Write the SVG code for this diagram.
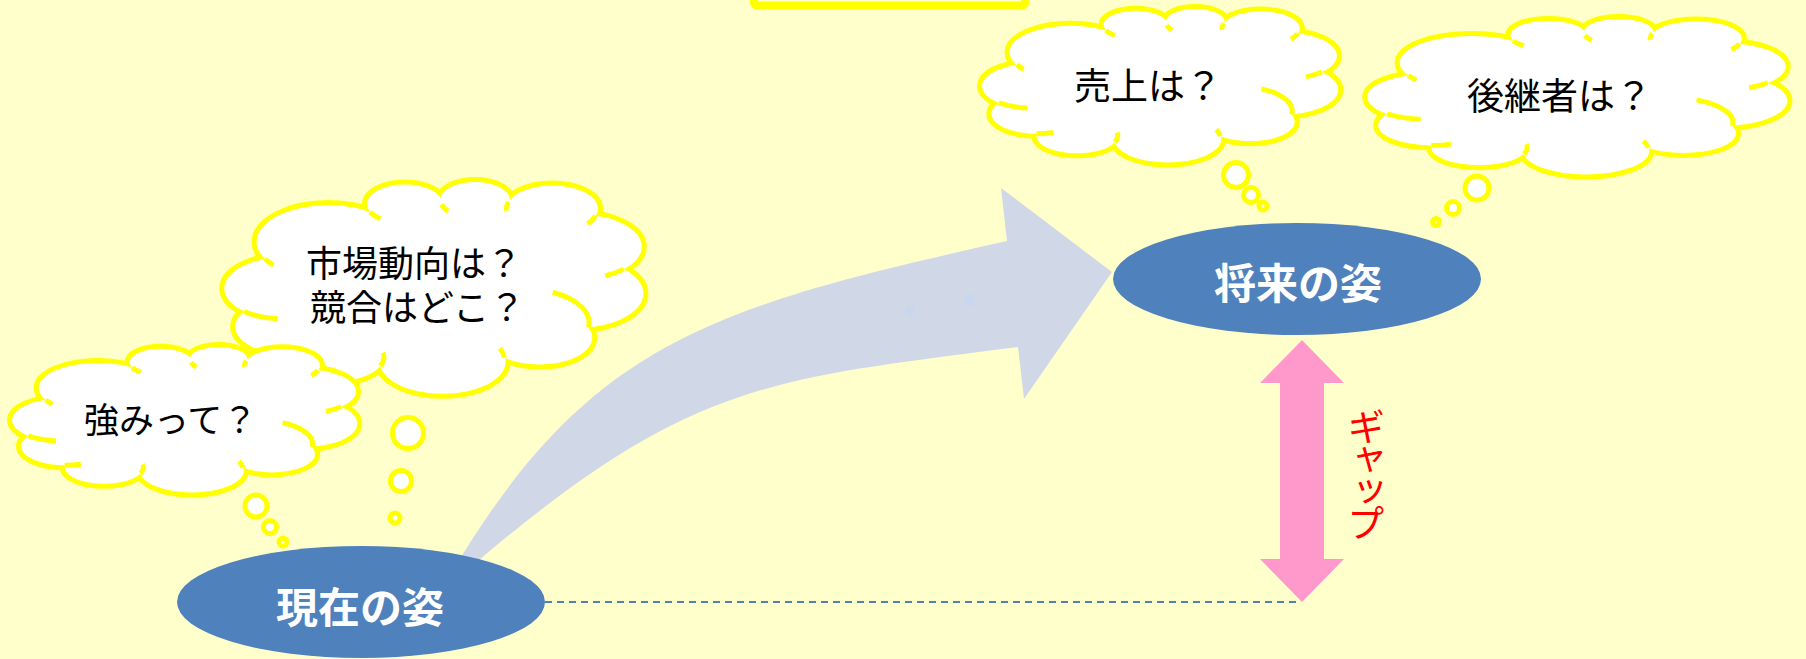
<svg xmlns="http://www.w3.org/2000/svg" xmlns:xlink="http://www.w3.org/1999/xlink" width="1806" height="659" viewBox="0 0 1806 659">
<style>
.bg{fill:#FFFFCC}
.lump-s{fill:#FFFFFF;stroke:#FFFF00;stroke-width:10}
.lump-f{fill:#FFFFFF;stroke:none}
.fold{fill:none;stroke:#FFFF00;stroke-width:5}
.bubble{fill:#FFFFFF;stroke:#FFFF00;stroke-width:5}
.qtext{font-family:"Noto Sans CJK JP","Noto Sans CJK SC",sans-serif;font-size:37px;fill:#000000;dominant-baseline:central}
.ntext{font-family:"Noto Sans CJK JP","Noto Sans CJK SC",sans-serif;font-size:42px;font-weight:bold;fill:#FFFFFF;text-anchor:middle;dominant-baseline:central}
.state{fill:#4F81BD}
.flow{fill:#D0D8E8}
.gap{fill:#FF99CC}
.dash{stroke:#4F81BD;stroke-width:2;stroke-dasharray:7 5;fill:none}
.gaptext{font-family:"Noto Sans CJK JP","Noto Sans CJK SC",sans-serif;font-size:38px;letter-spacing:-6px;fill:#FF0000;writing-mode:vertical-rl}
</style>
<defs>
<g id="cloud-lumps">
<circle vector-effect="non-scaling-stroke" cx="14.8" cy="49.7" r="14.5"/>
<circle vector-effect="non-scaling-stroke" cx="25.1" cy="27.9" r="17.1"/>
<circle vector-effect="non-scaling-stroke" cx="43.3" cy="10.2" r="9"/>
<circle vector-effect="non-scaling-stroke" cx="60" cy="8.3" r="8.3"/>
<circle vector-effect="non-scaling-stroke" cx="78.4" cy="12.5" r="10.9"/>
<circle vector-effect="non-scaling-stroke" cx="84.7" cy="30.2" r="15"/>
<circle vector-effect="non-scaling-stroke" cx="83.9" cy="52.1" r="16.2"/>
<circle vector-effect="non-scaling-stroke" cx="75.4" cy="72.8" r="12.5"/>
<circle vector-effect="non-scaling-stroke" cx="52.3" cy="84" r="15"/>
<circle vector-effect="non-scaling-stroke" cx="26.9" cy="81.7" r="11.4"/>
<circle vector-effect="non-scaling-stroke" cx="15.8" cy="67.6" r="12.9"/>
</g>
<polygon id="cloud-core" points="5,60.5 10,36 35,14 52,10.5 68,9.3 88.7,15.7 95.4,40.7 87,68 67,82 37.5,86 15.5,80.5"/>
<path id="cloud-folds" vector-effect="non-scaling-stroke" d="M5,60.5 A14.5,14.5 0 0 0 13,63.9 M10,36 A17.1,17.1 0 0 0 12,38.9 M35,14 A9,9 0 0 0 37.5,17.1 M52,10.5 A8.3,8.3 0 0 0 53.6,13.6 M68,9.3 A10.9,10.9 0 0 0 67.5,13.4 M88.7,15.7 A10.9,10.9 0 0 1 86.8,19.5 M95.4,40.7 A15,15 0 0 1 91,43.8 M87,68 A16,16 0 0 0 78.5,51.5 M67,82 A15,15 0 0 0 65.9,77.7 M37.5,86 A11.4,11.4 0 0 0 38.1,79.7 M15.5,80.5 A12.9,12.9 0 0 0 20.2,79.7"/>
</defs>

<rect class="bg" x="0" y="0" width="1806" height="659"/>

<g id="title-frame">
<rect x="754" y="-20" width="271" height="25.5" rx="3" fill="none" stroke="#FFFF00" stroke-width="8"/>
</g>

<g id="connectors">
<path id="flow-arrow" class="flow" d="M452,572 C590,340 714,307 1007,241 L1001,188 L1112,272 L1024,399 L1018,347 C770,379.5 690,380 472,566 Z"/>
<circle cx="910" cy="310" r="5" fill="#C8D7EE"/>
<circle cx="969" cy="300" r="6" fill="#C8D7EE"/>
<line class="dash" x1="545" y1="602" x2="1296" y2="602"/>
<polygon id="gap-arrow" class="gap" points="1302,340 1344,383 1324,383 1324,559 1344,559 1302,602 1260,559 1280,559 1280,383 1260,383"/>
<text class="gaptext" x="1366" y="408">ギャップ</text>
</g>

<g id="node-now">
<ellipse class="state" cx="361" cy="602" rx="184" ry="56"/>
<text class="ntext" x="360" y="604">現在の姿</text>
</g>

<g id="node-future">
<ellipse class="state" cx="1297" cy="279" rx="184" ry="56"/>
<text class="ntext" x="1298" y="280">将来の姿</text>
</g>

<g id="cloud-market">
<g transform="translate(223,182) scale(4.2,2.14)">
<use href="#cloud-lumps" class="lump-s"/>
<use href="#cloud-lumps" class="lump-f"/>
<use href="#cloud-core" class="lump-f"/>
<use href="#cloud-folds" class="fold"/>
</g>
<circle class="bubble" cx="408" cy="433" r="15.5"/>
<circle class="bubble" cx="401" cy="481" r="10.5"/>
<circle class="bubble" cx="395" cy="518" r="5"/>
<text class="qtext" style="font-size:36px"><tspan x="306" y="261">市場動向は？</tspan><tspan x="310" y="305">競合はどこ？</tspan></text>
</g>

<g id="cloud-strength">
<g transform="translate(11,347) scale(3.46,1.47)">
<use href="#cloud-lumps" class="lump-s"/>
<use href="#cloud-lumps" class="lump-f"/>
<use href="#cloud-core" class="lump-f"/>
<use href="#cloud-folds" class="fold"/>
</g>
<circle class="bubble" cx="256" cy="506" r="11"/>
<circle class="bubble" cx="270" cy="527" r="6.5"/>
<circle class="bubble" cx="283" cy="542" r="4"/>
<text class="qtext" x="84" y="417" style="font-size:35px">強みって？</text>
</g>

<g id="cloud-sales">
<g transform="translate(981,9) scale(3.57,1.55)">
<use href="#cloud-lumps" class="lump-s"/>
<use href="#cloud-lumps" class="lump-f"/>
<use href="#cloud-core" class="lump-f"/>
<use href="#cloud-folds" class="fold"/>
</g>
<circle class="bubble" cx="1236" cy="175" r="12.5"/>
<circle class="bubble" cx="1251" cy="195" r="7.5"/>
<circle class="bubble" cx="1263" cy="206" r="4"/>
<text class="qtext" x="1074" y="84">売上は？</text>
</g>

<g id="cloud-successor">
<g transform="translate(1366,19) scale(4.21,1.57)">
<use href="#cloud-lumps" class="lump-s"/>
<use href="#cloud-lumps" class="lump-f"/>
<use href="#cloud-core" class="lump-f"/>
<use href="#cloud-folds" class="fold"/>
</g>
<circle class="bubble" cx="1477" cy="188" r="12"/>
<circle class="bubble" cx="1453" cy="208" r="6.5"/>
<circle class="bubble" cx="1436" cy="222" r="3.5"/>
<text class="qtext" x="1467" y="94">後継者は？</text>
</g>
</svg>
